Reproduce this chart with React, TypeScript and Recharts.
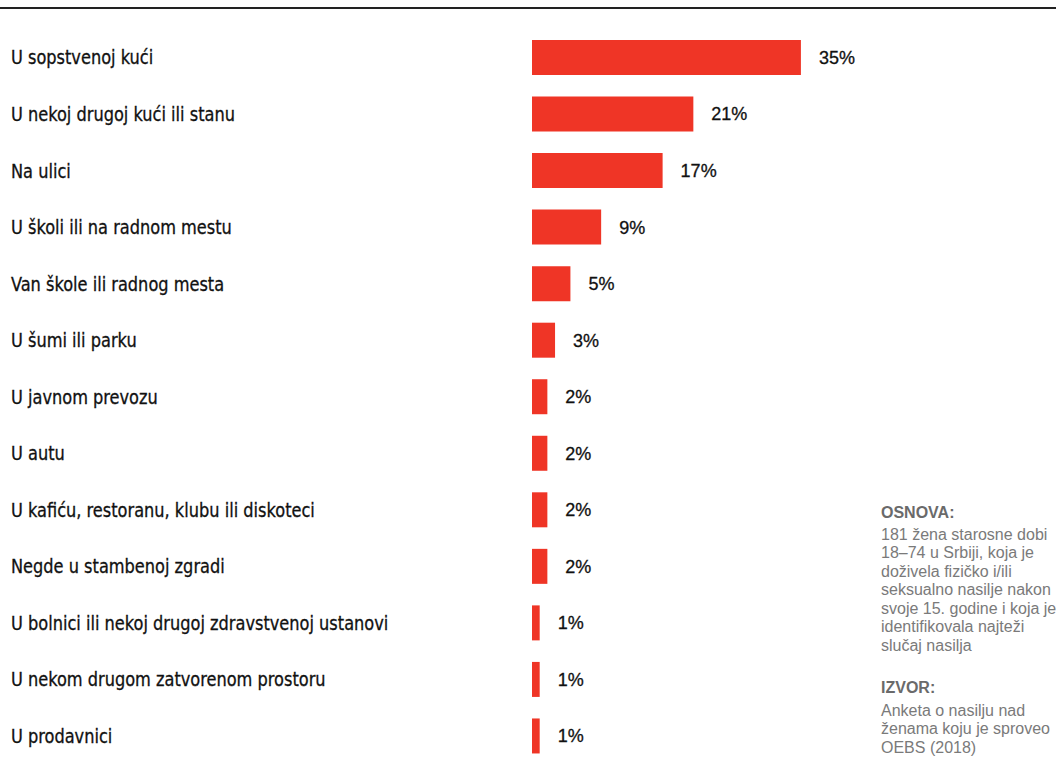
import { BarChart, Bar, XAxis, YAxis, LabelList } from "recharts";

const categories = [
  "U sopstvenoj kući",
  "U nekoj drugoj kući ili stanu",
  "Na ulici",
  "U školi ili na radnom mestu",
  "Van škole ili radnog mesta",
  "U šumi ili parku",
  "U javnom prevozu",
  "U autu",
  "U kafiću, restoranu, klubu ili diskoteci",
  "Negde u stambenoj zgradi",
  "U bolnici ili nekoj drugoj zdravstvenoj ustanovi",
  "U nekom drugom zatvorenom prostoru",
  "U prodavnici",
];
const shares = [35, 21, 17, 9, 5, 3, 2, 2, 2, 2, 1, 1, 1];

const baseLines = [
  "181 žena starosne dobi",
  "18–74 u Srbiji, koja je",
  "doživela fizičko i/ili",
  "seksualno nasilje nakon",
  "svoje 15. godine i koja je",
  "identifikovala najteži",
  "slučaj nasilja",
];
const sourceLines = ["Anketa o nasilju nad", "ženama koju je sproveo", "OEBS (2018)"];

const data = categories.map((name, i) => ({ name, value: shares[i] }));

const labelFont = "'Liberation Sans Narrow', 'DejaVu Sans Condensed', 'Liberation Sans', sans-serif";
const noteFont = "'Liberation Sans', Arial, sans-serif";

// condensed labels: a bit taller glyphs squeezed horizontally
function CategoryTick(props: any) {
  const { y, payload } = props;
  return (
    <g transform={`translate(11, ${y}) scale(0.9, 1)`}>
      <text x={0} y={0} dy="0.36em" textAnchor="start" fontFamily={labelFont} fontSize={20} fill="#111" stroke="#111" strokeWidth={0.3}>
        {payload.value}
      </text>
    </g>
  );
}

export default function App() {
  return (
    <div style={{ position: "absolute", left: 0, top: 0, width: 1056, height: 776, background: "#fff", overflow: "hidden" }}>
      <div style={{ position: "absolute", left: 0, top: 7, width: 1056, height: 2, background: "#222" }} />
      <BarChart
        width={1056}
        height={776}
        data={data}
        layout="vertical"
        margin={{ top: 29, right: 63, bottom: 12, left: 0 }}
        barCategoryGap={0}
      >
        <XAxis type="number" domain={[0, 60]} hide />
        <YAxis type="category" dataKey="name" width={532} axisLine={false} tickLine={false} tick={<CategoryTick />} interval={0} />
        <Bar dataKey="value" fill="#ef3526" barSize={35} isAnimationActive={false}>
          <LabelList
            dataKey="value"
            position="right"
            offset={18}
            formatter={(v: any) => `${v}%`}
            style={{ fontFamily: noteFont, fontSize: 18, fill: "#111", stroke: "#111", strokeWidth: 0.3 }}
          />
        </Bar>
      </BarChart>
      <div style={{ position: "absolute", left: 881, top: 504, width: 200, fontFamily: noteFont, fontSize: 16, lineHeight: "18.5px", color: "#7a7a7a", whiteSpace: "nowrap" }}>
        <div style={{ fontWeight: 700, color: "#6a6a6a", marginBottom: 3 }}>OSNOVA:</div>
        {baseLines.map((l) => (
          <div key={l}>{l}</div>
        ))}
        <div style={{ fontWeight: 700, color: "#6a6a6a", marginTop: 24, marginBottom: 4 }}>IZVOR:</div>
        {sourceLines.map((l) => (
          <div key={l}>{l}</div>
        ))}
      </div>
    </div>
  );
}
